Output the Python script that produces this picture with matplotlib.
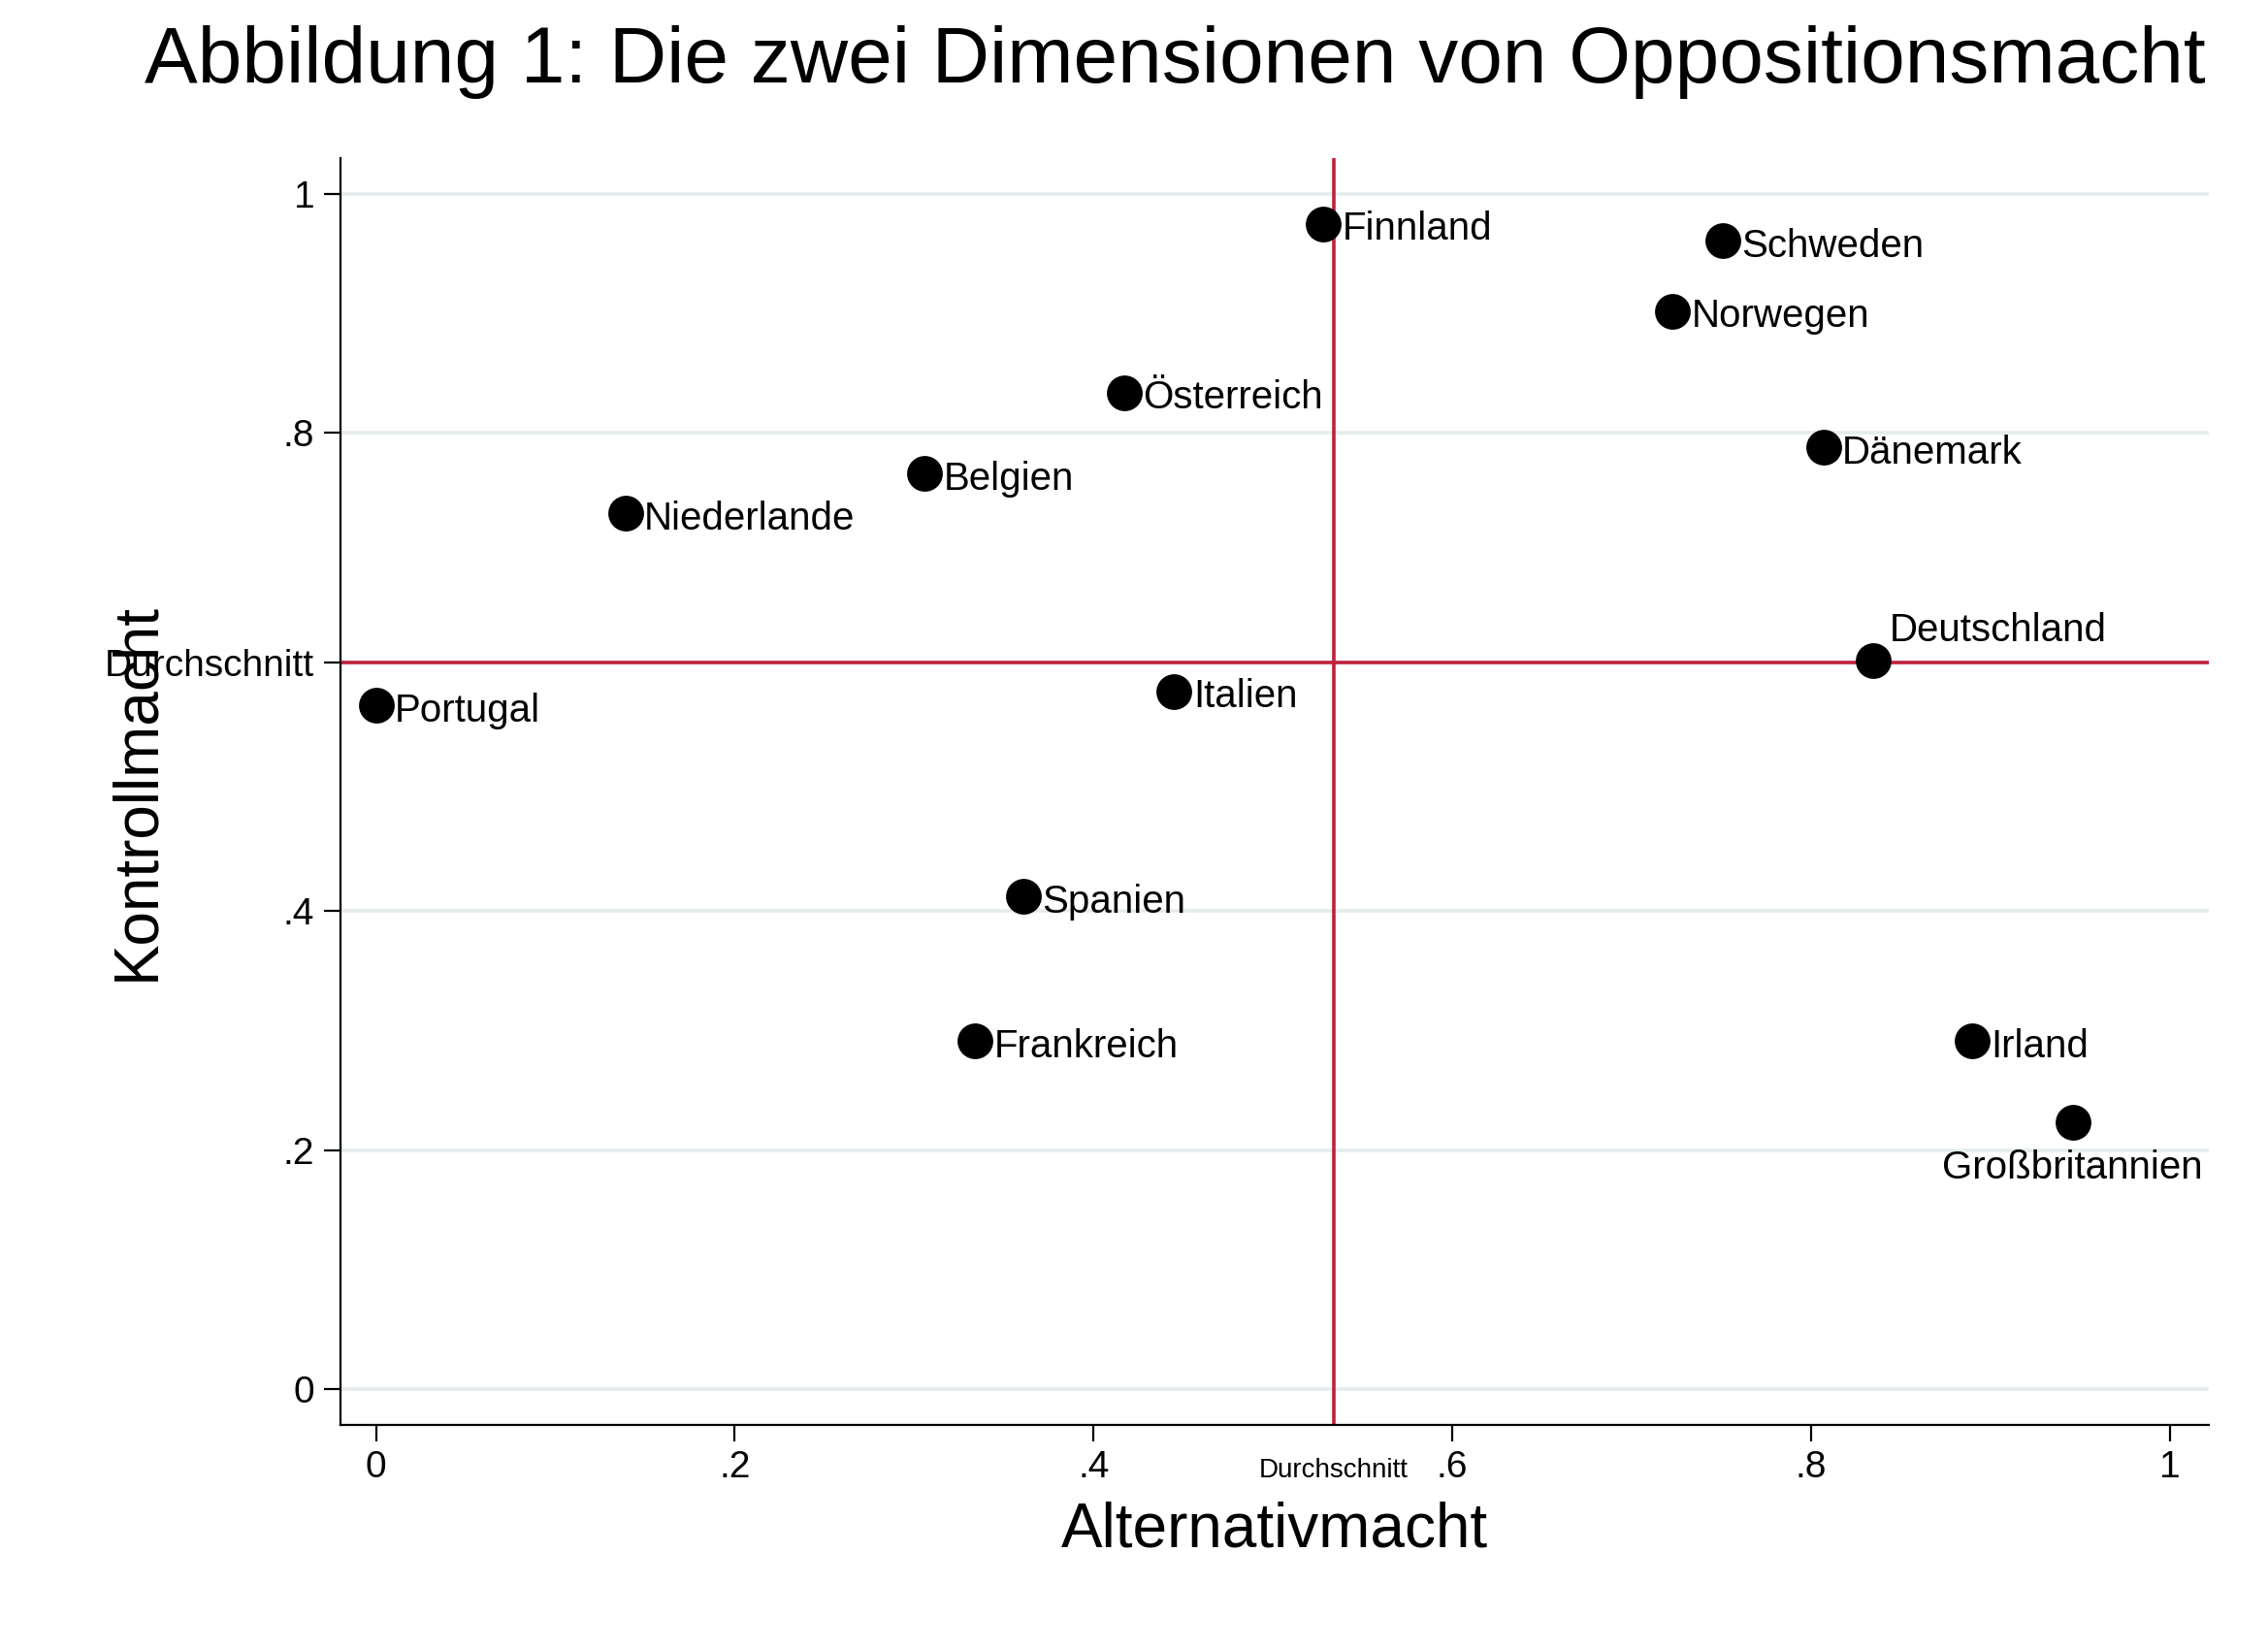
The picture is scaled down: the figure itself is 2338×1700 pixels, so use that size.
import matplotlib
matplotlib.use("Agg")
import matplotlib.pyplot as plt

countries = ["Finnland", "Schweden", "Norwegen", "Österreich", "Dänemark", "Belgien",
             "Niederlande", "Deutschland", "Portugal", "Italien", "Spanien",
             "Frankreich", "Irland", "Großbritannien"]
alt = [0.528, 0.751, 0.723, 0.417, 0.807, 0.306, 0.139, 0.835, 0.0, 0.445,
       0.361, 0.334, 0.890, 0.946]
kon = [0.975, 0.961, 0.902, 0.834, 0.788, 0.766, 0.733, 0.610, 0.572, 0.584,
       0.412, 0.291, 0.291, 0.223]
mean_alt = 0.534
mean_kon = 0.608

plt.rcParams['font.family'] = ['Liberation Sans', 'DejaVu Sans']
fig = plt.figure(figsize=(11.69, 8.5), dpi=200)
ax = fig.add_axes([0.150, 0.136, 0.824, 0.768])

ax.scatter(alt, kon, s=150, color='black', zorder=3)
for name, x, y in zip(countries, alt, kon):
    if name == "Deutschland":
        ax.annotate(name, (x, y), xytext=(6, 4), textcoords='offset points',
                    fontsize=14.5, va='bottom')
    elif name == "Großbritannien":
        ax.annotate(name, (x, y), xytext=(0, -10), textcoords='offset points',
                    fontsize=14.5, va='top', ha='center')
    else:
        ax.annotate(name, (x, y), xytext=(7, -2), textcoords='offset points',
                    fontsize=14.5, va='center')

red = '#c0203a'
ax.axvline(mean_alt, color=red, lw=1.3, zorder=2)
ax.axhline(mean_kon, color=red, lw=1.3, zorder=2)

ax.set_xlim(-0.020, 1.022)
ax.set_ylim(-0.030, 1.030)
ax.set_xticks([0, 0.2, 0.4, 0.6, 0.8, 1], ["0", ".2", ".4", ".6", ".8", "1"])
ax.set_yticks([0, 0.2, 0.4, mean_kon, 0.8, 1], ["0", ".2", ".4", "Durchschnitt", ".8", "1"])
ax.get_yticklabels()[3].set_fontsize(10)
ax.tick_params(labelsize=14, length=6, direction='out')
ax.grid(axis='y', color='#e6ecee', lw=1.3, zorder=0)
for s in ['top', 'right']:
    ax.spines[s].set_visible(False)

ax.text(mean_alt, -0.068, "Durchschnitt", fontsize=10, ha='center', va='center')

ax.set_xlabel("Alternativmacht", fontsize=23, labelpad=6)
ax.set_ylabel("Kontrollmacht", fontsize=23)
ax.yaxis.set_label_coords(-0.093, 0.5)
fig.suptitle("Abbildung 1: Die zwei Dimensionen von Oppositionsmacht",
             fontsize=29.5, x=0.518, y=0.985)

fig.savefig("out.png", dpi=200, facecolor='white')
